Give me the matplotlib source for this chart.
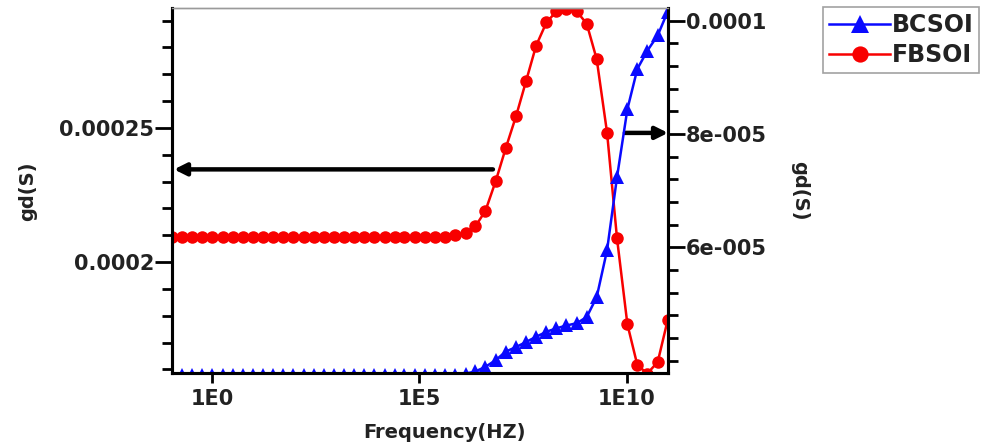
"""gd versus frequency for the BCSOI and FBSOI devices, drawn on twin y axes."""

from __future__ import annotations

import matplotlib

matplotlib.use("Agg")
import matplotlib.pyplot as plt
import numpy as np
from matplotlib.ticker import FixedLocator, FuncFormatter, MultipleLocator, NullLocator

# log10 of the sweep frequency (Hz), one entry per simulated point
FREQ_EXPONENTS = [
    -0.96, -0.72, -0.47, -0.23, 0.01, 0.26, 0.50, 0.75, 0.99, 1.23,
    1.48, 1.72, 1.96, 2.21, 2.45, 2.70, 2.94, 3.18, 3.43, 3.67,
    3.91, 4.16, 4.40, 4.64, 4.89, 5.13, 5.38, 5.62, 5.86, 6.11,
    6.35, 6.59, 6.84, 7.08, 7.33, 7.57, 7.81, 8.06, 8.30, 8.54,
    8.79, 9.03, 9.27, 9.52, 9.76, 10.01, 10.25, 10.49, 10.74, 10.98,
]

# FBSOI gd (S), left axis
FBSOI_GD = [
    0.0002093, 0.0002093, 0.0002093, 0.0002093, 0.0002093, 0.0002093, 0.0002093, 0.0002093, 0.0002093, 0.0002093,
    0.0002093, 0.0002093, 0.0002093, 0.0002093, 0.0002093, 0.0002093, 0.0002093, 0.0002093, 0.0002093, 0.0002093,
    0.0002093, 0.0002093, 0.0002093, 0.0002093, 0.0002093, 0.0002093, 0.0002093, 0.0002095, 0.0002100, 0.0002109,
    0.0002134, 0.0002191, 0.0002303, 0.0002425, 0.0002545, 0.0002675, 0.0002806, 0.0002893, 0.0002934, 0.0002943,
    0.0002934, 0.0002888, 0.0002756, 0.0002482, 0.0002088, 0.0001768, 0.0001616, 0.0001585, 0.0001628, 0.0001784,
]

# BCSOI gd (S), right axis
BCSOI_GD = [
    3.745e-5, 3.745e-5, 3.745e-5, 3.745e-5, 3.745e-5, 3.745e-5, 3.745e-5, 3.745e-5, 3.745e-5, 3.745e-5,
    3.745e-5, 3.745e-5, 3.745e-5, 3.745e-5, 3.745e-5, 3.745e-5, 3.745e-5, 3.745e-5, 3.745e-5, 3.745e-5,
    3.745e-5, 3.745e-5, 3.745e-5, 3.745e-5, 3.745e-5, 3.745e-5, 3.745e-5, 3.745e-5, 3.75e-5, 3.77e-5,
    3.81e-5, 3.89e-5, 4.01e-5, 4.16e-5, 4.24e-5, 4.33e-5, 4.42e-5, 4.51e-5, 4.57e-5, 4.62e-5,
    4.66e-5, 4.77e-5, 5.12e-5, 5.95e-5, 7.24e-5, 8.44e-5, 9.15e-5, 9.47e-5, 9.74e-5, 1.016e-4,
]

X_TICKS = [1e0, 1e5, 1e10]
X_TICK_LABELS = ["1E0", "1E5", "1E10"]
LEFT_MAJOR_TICKS = [0.0002, 0.00025]
RIGHT_MAJOR_TICKS = [6e-5, 8e-5, 1e-4]

RED = "#f80000"
BLUE = "#0a0aff"
TEXT_COLOR = "#222222"


def _tonyplot_label(value: float, _pos: int) -> str:
    # old-style exponent with three digits: 6e-005
    return f"{value:g}".replace("e-0", "e-00")


def _style_y_axis(axis, major, minor_step, side):
    axis.yaxis.set_major_locator(FixedLocator(major))
    axis.yaxis.set_minor_locator(MultipleLocator(minor_step))
    axis.yaxis.set_major_formatter(FuncFormatter(_tonyplot_label))
    axis.tick_params(axis="y", which="major", direction="out", length=12, width=2, pad=1,
                     labelsize=15, labelcolor=TEXT_COLOR, left=side == "left", right=side == "right")
    axis.tick_params(axis="y", which="minor", direction="out", length=7, width=2,
                     left=side == "left", right=side == "right")


def main() -> None:
    plt.rcParams["font.family"] = ["DejaVu Sans"]
    plt.rcParams["font.weight"] = "bold"
    plt.rcParams["axes.labelweight"] = "bold"

    freq = np.power(10.0, np.asarray(FREQ_EXPONENTS))
    figure = plt.figure(figsize=(9.84, 4.45), dpi=100)
    axis = figure.add_axes([0.1748, 0.1611, 0.5041, 0.8198])
    twin = axis.twinx()

    axis.plot(freq, FBSOI_GD, color=RED, linewidth=1.8, marker="o", markersize=9,
              markeredgewidth=0, label="FBSOI")
    twin.plot(freq, BCSOI_GD, color=BLUE, linewidth=1.8, marker="^", markersize=9.5,
              markeredgewidth=0, label="BCSOI")

    axis.set_xscale("log")
    axis.set_xlim(10 ** FREQ_EXPONENTS[0], 10 ** FREQ_EXPONENTS[-1] * 1.02)
    axis.xaxis.set_major_locator(FixedLocator(X_TICKS))
    axis.xaxis.set_minor_locator(NullLocator())
    axis.set_xticklabels(X_TICK_LABELS)
    axis.tick_params(axis="x", which="major", direction="out", length=7, width=2, pad=4,
                     labelsize=15, labelcolor=TEXT_COLOR)

    axis.set_ylim(0.00015858, 0.00029448)
    twin.set_ylim(3.776e-5, 1.0215e-4)
    _style_y_axis(axis, LEFT_MAJOR_TICKS, 1e-5, "left")
    _style_y_axis(twin, RIGHT_MAJOR_TICKS, 4e-6, "right")

    for ax in (axis, twin):
        for name in ("left", "right", "bottom"):
            ax.spines[name].set_linewidth(2.2)
            ax.spines[name].set_color("black")
        ax.spines["top"].set_linewidth(1.0)
        ax.spines["top"].set_color("#9a9a9a")

    axis.set_xlabel("Frequency(HZ)", fontsize=14, color=TEXT_COLOR)
    axis.xaxis.set_label_coords(0.549, -0.135)
    axis.set_ylabel("gd(S)", fontsize=14, color=TEXT_COLOR, labelpad=16)
    twin.set_ylabel("gd(S)", fontsize=14, color=TEXT_COLOR, rotation=270, labelpad=30)

    # arrows telling which curve belongs to which axis
    arrow_style = dict(arrowstyle="-|>", color="black", linewidth=3.2, mutation_scale=18, shrinkA=0, shrinkB=0)
    axis.annotate("", xy=(0.004, 0.559), xytext=(0.647, 0.559), xycoords="axes fraction", arrowprops=arrow_style)
    axis.annotate("", xy=(1.0, 0.659), xytext=(0.913, 0.659), xycoords="axes fraction", arrowprops=arrow_style)

    handles = twin.get_legend_handles_labels()[0] + axis.get_legend_handles_labels()[0]
    labels = ["BCSOI", "FBSOI"]
    legend = figure.legend(handles, labels, loc="upper left", bbox_to_anchor=(823 / 984, 1 - 7 / 445),
                           prop={"size": 17, "weight": "bold"}, frameon=True, fancybox=False,
                           handlelength=2.6, handletextpad=0.05, borderpad=0.25, labelspacing=0.25,
                           borderaxespad=0.0, markerscale=1.3)
    legend.get_frame().set_edgecolor("#8a8a8a")
    legend.get_frame().set_linewidth(1.2)
    for text in legend.get_texts():
        text.set_color(TEXT_COLOR)

    figure.savefig("out.png", dpi=100)
    plt.close(figure)


if __name__ == "__main__":
    main()
